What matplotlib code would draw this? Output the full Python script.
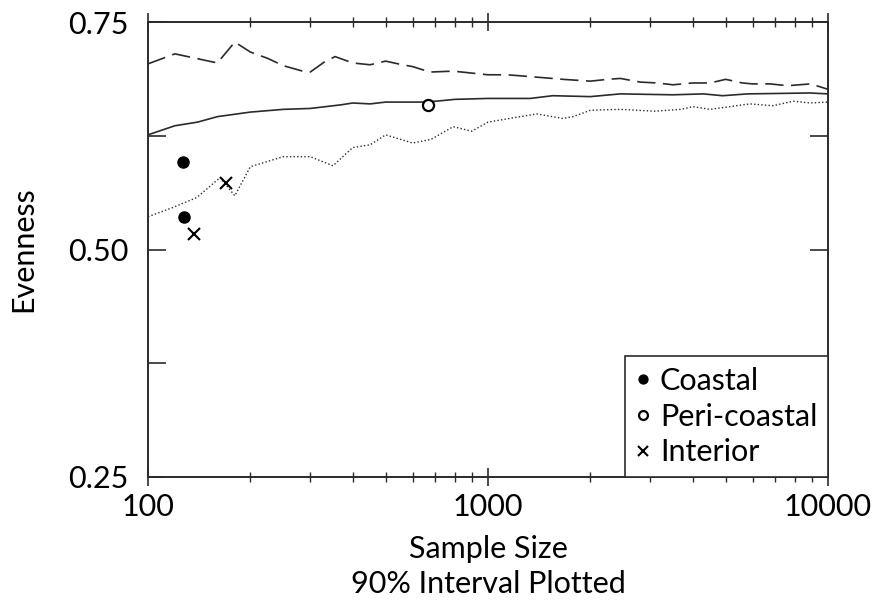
import matplotlib
matplotlib.use("Agg")
import matplotlib.pyplot as plt
from matplotlib.ticker import FixedLocator, NullFormatter, LogLocator

plt.rcParams["font.family"] = ["Lato", "DejaVu Sans"]

# upper bound of the 90% interval (dashed)
upper_x = [100, 120, 160, 180, 200, 225, 250, 285, 300, 330, 355, 400, 450, 500,
           560, 600, 675, 790, 1000, 1140, 1330, 1660, 2000, 2250, 2450, 2800,
           3140, 3500, 4000, 4500, 5000, 5600, 6000, 6750, 7600, 8900, 10000]
upper_y = [0.704, 0.715, 0.705, 0.728, 0.717, 0.710, 0.702, 0.696, 0.695, 0.706,
           0.712, 0.705, 0.703, 0.707, 0.703, 0.701, 0.695, 0.696, 0.692, 0.692,
           0.690, 0.687, 0.685, 0.687, 0.688, 0.684, 0.683, 0.681, 0.683, 0.683,
           0.687, 0.683, 0.682, 0.682, 0.680, 0.682, 0.676]

# median (solid)
mid_x = [100, 120, 140, 160, 200, 250, 300, 370, 400, 450, 500, 660, 800, 1000,
         1330, 1550, 2000, 2450, 3500, 4300, 4900, 5800, 8850, 10000]
mid_y = [0.626, 0.636, 0.640, 0.646, 0.651, 0.654, 0.655, 0.659, 0.661, 0.660,
         0.662, 0.662, 0.665, 0.666, 0.666, 0.669, 0.668, 0.671, 0.670, 0.671,
         0.669, 0.671, 0.672, 0.671]

# lower bound of the 90% interval (dotted)
lower_x = [100, 118, 139, 163, 180, 200, 250, 300, 350, 400, 450, 500, 600, 680,
           790, 895, 1000, 1390, 1660, 1780, 2000, 2450, 3100, 3700, 4000, 4500,
           5900, 6900, 7900, 8850, 10000]
lower_y = [0.536, 0.546, 0.557, 0.579, 0.559, 0.591, 0.602, 0.602, 0.592, 0.612,
           0.615, 0.626, 0.617, 0.621, 0.635, 0.630, 0.640, 0.649, 0.644, 0.646,
           0.653, 0.654, 0.652, 0.654, 0.657, 0.654, 0.660, 0.658, 0.663, 0.661,
           0.662]

coastal_x = [127, 128]
coastal_y = [0.596, 0.536]
peri_x = [666]
peri_y = [0.659]
interior_x = [170, 137]
interior_y = [0.573, 0.517]

ink = "#2b2b2b"
fs = 22
fig = plt.figure(figsize=(8.75, 6.03), dpi=100)
ax = fig.add_axes([148 / 875, 1 - 477 / 603, 680 / 875, 455 / 603])

ax.plot(upper_x, upper_y, color=ink, lw=1.2, dashes=(11, 4.5))
ax.plot(mid_x, mid_y, color=ink, lw=1.2)
ax.plot(lower_x, lower_y, color=ink, lw=1.0, ls=(0, (1, 1.6)))

ax.plot(coastal_x, coastal_y, ls="none", marker="o", ms=8, color="black",
        label="Coastal")
ax.plot(peri_x, peri_y, ls="none", marker="o", ms=8, mfc="white", mec="black",
        mew=1.6, label="Peri-coastal")
ax.plot(interior_x, interior_y, ls="none", marker="x", ms=9, mew=1.5,
        color="black", label="Interior")

ax.set_xscale("log")
ax.set_xlim(100, 10000)
ax.set_ylim(0.25, 0.75)

ax.set_xticks([100, 1000, 10000])
ax.set_xticklabels(["100", "1000", "10000"])
ax.xaxis.set_minor_locator(LogLocator(base=10, subs=range(2, 10)))
ax.xaxis.set_minor_formatter(NullFormatter())
ax.set_yticks([0.25, 0.5, 0.75])
ax.set_yticklabels(["0.25", "0.50", "0.75"])
ax.yaxis.set_minor_locator(FixedLocator([0.375, 0.625]))

ax.tick_params(axis="x", which="major", direction="inout", length=13, width=1.2,
               top=True, labelsize=fs, pad=5, color=ink)
ax.tick_params(axis="x", which="minor", direction="inout", length=6.5, width=1.0,
               top=True, color=ink)
ax.tick_params(axis="y", which="both", direction="in", length=13, width=1.2,
               right=True, labelsize=fs, pad=14, color=ink)

for s in ax.spines.values():
    s.set_color(ink)
    s.set_linewidth(1.4)

ax.set_xlabel("Sample Size\n90% Interval Plotted", fontsize=fs, linespacing=1.3,
              labelpad=10)
ax.set_ylabel("Evenness", fontsize=fs, labelpad=22)

leg = ax.legend(loc="lower right", bbox_to_anchor=(1, 0), borderaxespad=0,
                fontsize=fs, markerscale=0.8, handlelength=0.5, handletextpad=0.3,
                labelspacing=0.25, borderpad=0.35, fancybox=False, framealpha=1)
leg.get_frame().set_edgecolor(ink)
leg.get_frame().set_linewidth(1.2)

fig.savefig("out.png", dpi=100)
